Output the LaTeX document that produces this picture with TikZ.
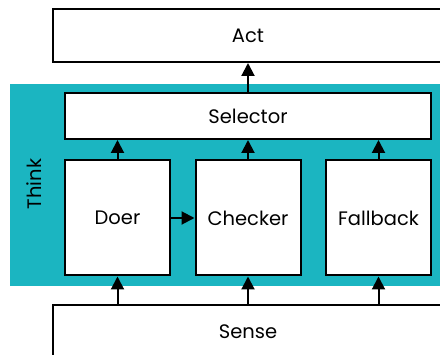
\documentclass[tikz,border=0pt]{standalone}
\usepackage{fontspec}
\setmainfont{Poppins}
\usetikzlibrary{arrows.meta}
\definecolor{thinkteal}{HTML}{1BB5C1}
\begin{document}
\begin{tikzpicture}[x=1pt,y=-1pt,
  box/.style={draw=black, fill=white, line width=2pt, inner sep=0pt,
    font=\fontsize{19.5}{22}\selectfont},
  flow/.style={-{Triangle[width=13pt,length=13pt]}, line width=2pt}]
\useasboundingbox (0,0) rectangle (440,355);
\clip (0,0) rectangle (440,355);
\fill[white] (0,0) rectangle (440,355);

% the Think layer
\node[fill=thinkteal, minimum width=440pt, minimum height=202pt, inner sep=0pt]
  (think) at (230,185) {};
\node[rotate=90, font=\fontsize{19.5}{22}\selectfont] (thinklabel) at (34,184) {Think};

% outer layers
\node[box, minimum width=390pt, minimum height=53pt] (act) at (248,35.5) {Act};
\node[box, minimum width=390pt, minimum height=54pt] (sense) at (248,332) {Sense};

% behaviours inside Think
\node[box, minimum width=366pt, minimum height=46pt] (selector) at (248,116) {Selector};
\node[box, minimum width=105pt, minimum height=115pt] (doer) at (117.5,218) {Doer};
\node[box, minimum width=105pt, minimum height=115pt] (checker) at (248,218) {Checker};
\node[box, minimum width=105pt, minimum height=115pt] (fallback) at (378.5,218) {Fallback};

% connectors
\draw[flow] (selector.north) -- (act.south);
\foreach \b in {doer,checker,fallback}{
  \draw[flow] (sense.north -| \b) -- (\b.south);
  \draw[flow] (\b.north) -- (selector.south -| \b);
}
\draw[flow] (doer.east) -- (checker.west);
\end{tikzpicture}
\end{document}
